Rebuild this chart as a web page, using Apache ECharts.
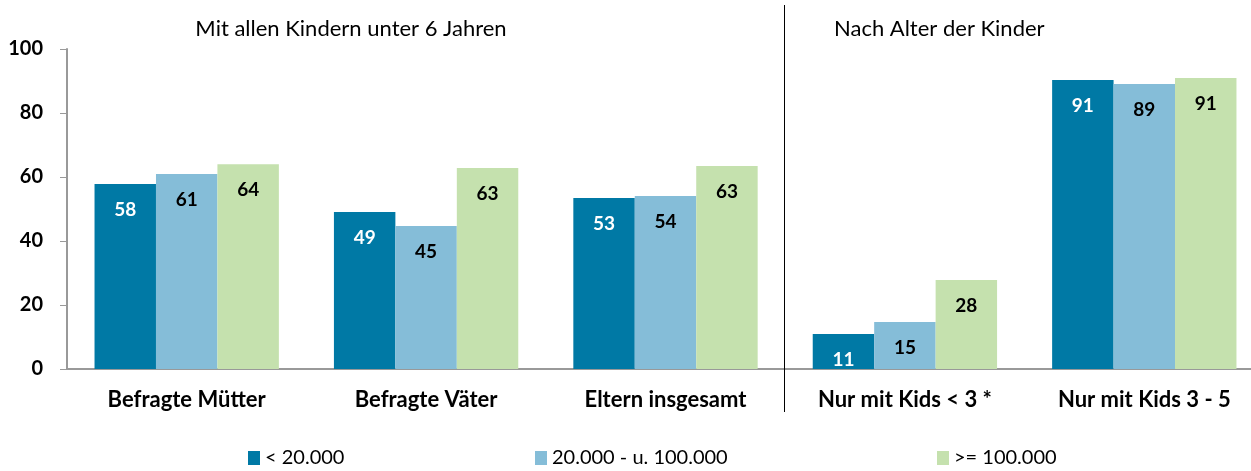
<!DOCTYPE html>
<html><head><meta charset="utf-8">
<script src="https://cdn.jsdelivr.net/npm/echarts@6/dist/echarts.min.js"></script>
<style>html,body{margin:0;padding:0;background:#fff;overflow:hidden}#c{width:1270px;height:471px}</style>
</head><body><div id="c"></div>
<script>
const categories = ['Befragte Mütter', 'Befragte Väter', 'Eltern insgesamt', 'Nur mit Kids < 3 *', 'Nur mit Kids 3 - 5'];
const seriesNames = ['< 20.000', '20.000 - u. 100.000', '>= 100.000'];
const lowValues = [57.8, 49.1, 53.4, 10.9, 90.3];
const midValues = [60.9, 44.7, 54.1, 14.7, 89.1];
const highValues = [64.0, 62.8, 63.4, 27.8, 90.9];
const lowLabels = [58, 49, 53, 11, 91];
const midLabels = [61, 45, 54, 15, 89];
const highLabels = [64, 63, 63, 28, 91];
const yMin = 0, yMax = 100, yInterval = 20;
const titleLeft = 'Mit allen Kindern unter 6 Jahren';
const titleRight = 'Nach Alter der Kinder';

const colors = ['#0079A5', '#85BDD8', '#C5E1AE'];
const labelColors = ['#ffffff', '#000000', '#000000'];
const FONT = 'Lato';

const chart = echarts.init(document.getElementById('c'), null, {renderer: 'canvas'});
const valueSets = [lowValues, midValues, highValues];
const labelSets = [lowLabels, midLabels, highLabels];

const series = seriesNames.map((name, i) => ({
  name, type: 'bar', barGap: '0%', barCategoryGap: '23%',
  itemStyle: {color: colors[i]},
  data: valueSets[i],
  label: {
    show: true, position: 'insideTop', distance: 16,
    color: labelColors[i], fontFamily: FONT, fontWeight: 'bold', fontSize: 19,
    formatter: p => String(labelSets[i][p.dataIndex])
  }
}));

const legendPos = [243, 530, 932];
const legends = seriesNames.map((n, i) => ({
  data: [n], left: legendPos[i], top: 443, icon: 'rect', itemWidth: 12, itemHeight: 14,
  itemGap: 6, selectedMode: false,
  textStyle: {fontFamily: FONT, fontSize: 20, color: '#000'}
}));

chart.setOption({
  animation: false,
  color: colors,
  textStyle: {fontFamily: FONT},
  title: [
    {text: titleLeft, left: 346, top: 13, textAlign: 'center',
     textStyle: {fontFamily: FONT, fontSize: 22, fontWeight: 'normal', color: '#000'}},
    {text: titleRight, left: 829, top: 13,
     textStyle: {fontFamily: FONT, fontSize: 22, fontWeight: 'normal', color: '#000'}}
  ],
  legend: legends,
  grid: {left: 67, right: 6, top: 49, bottom: 102, containLabel: false},
  xAxis: {
    type: 'category', data: categories,
    axisLine: {show: true, lineStyle: {color: '#999', width: 2}},
    axisTick: {show: false},
    axisLabel: {color: '#000', fontFamily: FONT, fontWeight: 'bold', fontSize: 22, margin: 20, interval: 0}
  },
  yAxis: {
    type: 'value', min: yMin, max: yMax, interval: yInterval,
    axisLine: {show: true, lineStyle: {color: '#999', width: 2}},
    axisTick: {show: true, length: 7, lineStyle: {color: '#999', width: 1}},
    splitLine: {show: false},
    axisLabel: {color: '#000', fontFamily: FONT, fontWeight: 'bold', fontSize: 20, margin: 24}
  },
  series
});

// divider between the two category groups
const c2 = chart.convertToPixel({xAxisIndex: 0}, 2);
const c3 = chart.convertToPixel({xAxisIndex: 0}, 3);
const xd = Math.round((c2 + c3) / 2) - 0.5;
chart.setOption({
  graphic: [{type: 'line', shape: {x1: xd, y1: 5, x2: xd, y2: 412}, style: {stroke: '#000', lineWidth: 1}, z: 10}]
});
</script>
</body></html>
